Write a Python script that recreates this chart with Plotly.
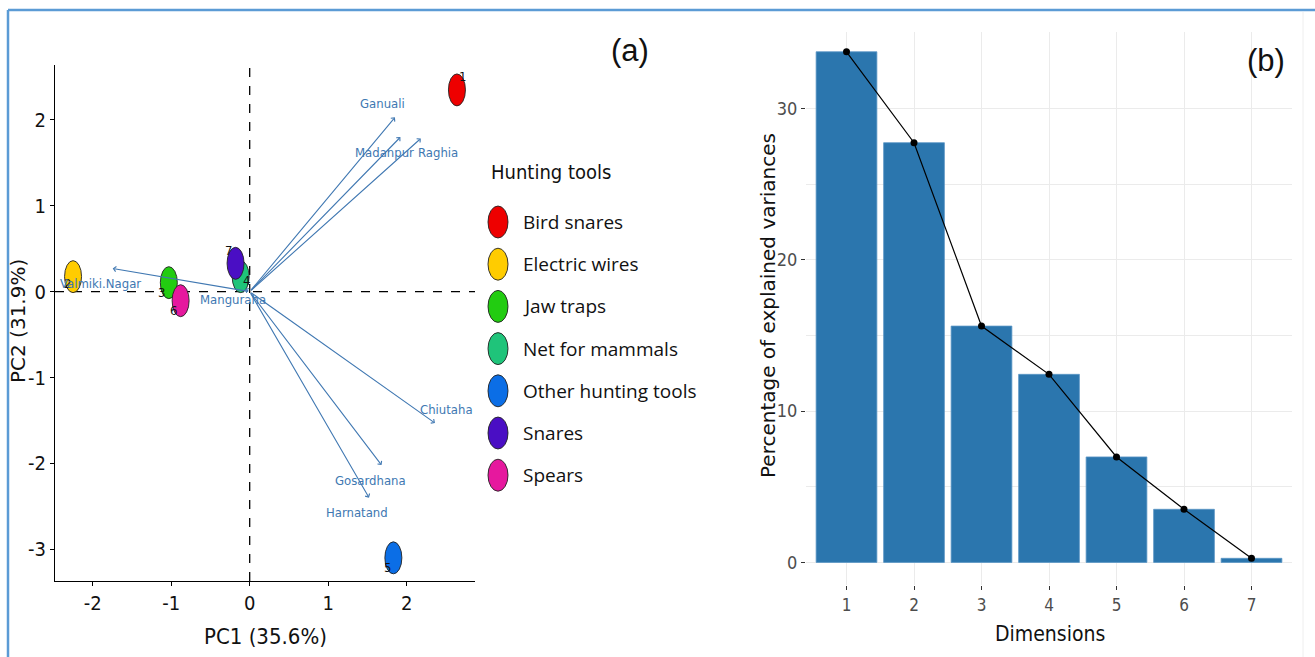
import plotly.graph_objects as go

# ---------------- data ----------------
tool_ids = ["1", "2", "3", "4", "5", "6", "7"]
point_tools = ["Bird snares", "Electric wires", "Jaw traps", "Net for mammals",
               "Other hunting tools", "Spears", "Snares"]
pc1 = [2.64, -2.25, -1.03, -0.115, 1.83, -0.88, -0.18]
pc2 = [2.35, 0.175, 0.105, 0.175, -3.10, -0.105, 0.33]

legend_tools = ["Bird snares", "Electric wires", "Jaw traps", "Net for mammals",
                "Other hunting tools", "Snares", "Spears"]
legend_colors = ["#ee0000", "#ffcc00", "#22cc11", "#1fc47a", "#0b6ee6", "#4a0ec4", "#e6189e"]

sites = ["Ganuali", "Madanpur", "Raghia", "Valmiki.Nagar", "Manguraha",
         "Chiutaha", "Gosardhana", "Harnatand"]
load1 = [1.85, 1.92, 2.18, -1.745, -0.06, 2.36, 1.68, 1.52]
load2 = [2.03, 1.80, 1.785, 0.27, 0.03, -1.53, -2.02, -2.40]

pc1_ticks = [-2, -1, 0, 1, 2]
pc1_ticktext = ["-2", "-1", "0", "1", "2"]
pc2_ticks = [-3, -2, -1, 0, 1, 2]
pc2_ticktext = ["-3", "-2", "-1", "0", "1", "2"]

dims = [1, 2, 3, 4, 5, 6, 7]
explained = [33.75, 27.74, 15.62, 12.43, 6.97, 3.51, 0.27]

# ---------------- style / layout constants ----------------
W, H = 1315, 657
NARROW = "DejaVu Sans Condensed, Liberation Sans Narrow, Arial Narrow, Liberation Sans, sans-serif"
ARROW_C = "#4078b2"
color_of = dict(zip(legend_tools, legend_colors))


def px_x(p):
    return p / W


def px_y(p):
    return 1 - p / H


# label pixel offsets (dx right, dy up) for point ids and site labels
id_offsets = [(6, 13), (-6, -7), (-7, -10), (6, -4), (-6, -10), (-7, -10), (-7, 13)]
site_offsets = [(-12, 14), (-16, -15), (17, -14), (-12, -15), (-12, -10),
                (12, 14), (-11, -15), (-12, -15)]

fig = go.Figure()

# ---------------- right panel: scree plot ----------------
fig.add_trace(go.Bar(
    x=dims, y=explained, width=0.9, xaxis="x2", yaxis="y2",
    marker=dict(color="#2b76ae", line=dict(color="#5b95c5", width=0.8)),
    showlegend=False, hoverinfo="x+y"))
fig.add_trace(go.Scatter(
    x=dims, y=explained, xaxis="x2", yaxis="y2", mode="lines+markers",
    line=dict(color="black", width=1.2), marker=dict(color="black", size=7),
    showlegend=False))

# invisible trace to anchor left axes
fig.add_trace(go.Scatter(x=pc1, y=pc2, mode="markers", xaxis="x", yaxis="y",
                         marker=dict(size=1, opacity=0), showlegend=False,
                         hoverinfo="skip"))

shapes = []
annotations = []


def note(x, y, text, size, family=NARROW, color="#111", xanchor="center",
         yanchor="middle", angle=0, xref="paper", yref="paper", dx=0, dy=0):
    annotations.append(dict(x=x, y=y, xref=xref, yref=yref, text=text, showarrow=False,
                            xanchor=xanchor, yanchor=yanchor, textangle=angle,
                            xshift=dx, yshift=dy,
                            font=dict(family=family, size=size, color=color)))


# dashed reference lines
shapes.append(dict(type="line", xref="x", yref="paper", x0=0, x1=0,
                   y0=px_y(581), y1=px_y(65),
                   line=dict(color="black", width=1.3, dash="dash"), layer="below"))
shapes.append(dict(type="line", xref="paper", yref="y", x0=px_x(55), x1=px_x(475),
                   y0=0, y1=0,
                   line=dict(color="black", width=1.3, dash="dash"), layer="below"))

# individuals as ellipses
for xv, yv, t in zip(pc1, pc2, point_tools):
    shapes.append(dict(type="circle", xref="x", yref="y",
                       xsizemode="pixel", ysizemode="pixel",
                       xanchor=xv, yanchor=yv, x0=-8.5, x1=8.5, y0=-16, y1=16,
                       fillcolor=color_of[t], line=dict(color="#222", width=0.9),
                       layer="above"))

# id labels
for xv, yv, t, (dx, dy) in zip(pc1, pc2, tool_ids, id_offsets):
    note(xv, yv, t, 13, xref="x", yref="y", dx=dx, dy=dy)

# variable arrows
for xv, yv in zip(load1, load2):
    annotations.append(dict(x=xv, y=yv, ax=0, ay=0, xref="x", yref="y",
                            axref="x", ayref="y", text="", showarrow=True,
                            arrowhead=4, arrowsize=0.9, arrowwidth=1.1,
                            arrowcolor=ARROW_C))
for xv, yv, s, (dx, dy) in zip(load1, load2, sites, site_offsets):
    note(xv, yv, s, 13, color=ARROW_C, xref="x", yref="y", dx=dx, dy=dy)

# custom legend
note(px_x(489), px_y(172), "Hunting tools", 20, xanchor="left")
for i, (name, c) in enumerate(zip(legend_tools, legend_colors)):
    yc = 222 + i * 42.2
    shapes.append(dict(type="circle", xref="paper", yref="paper",
                       xsizemode="pixel", ysizemode="pixel",
                       xanchor=px_x(498), yanchor=px_y(yc),
                       x0=-10, x1=10, y0=-16, y1=16,
                       fillcolor=c, line=dict(color="#222", width=0.9)))
    note(px_x(521), px_y(yc), name, 19, family="Open Sans, sans-serif", xanchor="left")

# axis titles and panel tags
note(px_x(265), px_y(636), "PC1 (35.6%)", 22)
note(px_x(18), px_y(321), "PC2 (31.9%)", 20, family="DejaVu Sans, sans-serif", angle=-90)
note(px_x(630), px_y(50), "(a)", 31, family="Liberation Sans, Arial, sans-serif")
note(px_x(1266), px_y(60), "(b)", 31, family="Liberation Sans, Arial, sans-serif")
note(px_x(1050), px_y(634), "Dimensions", 21)
note(px_x(768), px_y(306), "Percentage of explained variances", 20,
     family="DejaVu Sans, sans-serif", angle=-90)

# blue frame
shapes.append(dict(type="line", xref="paper", yref="paper", x0=px_x(8), x1=1.0,
                   y0=px_y(10), y1=px_y(10), line=dict(color="#5b9bd5", width=2.5)))
shapes.append(dict(type="line", xref="paper", yref="paper", x0=px_x(8), x1=px_x(8),
                   y0=0, y1=px_y(10), line=dict(color="#5b9bd5", width=2.5)))
shapes.append(dict(type="line", xref="paper", yref="paper", x0=px_x(1303), x1=px_x(1303),
                   y0=0, y1=px_y(12), line=dict(color="#eeeeee", width=1)))

fig.update_layout(
    width=W, height=H, margin=dict(l=0, r=0, t=0, b=0),
    paper_bgcolor="white", plot_bgcolor="white", showlegend=False,
    xaxis=dict(domain=[px_x(55), px_x(475)], range=[-2.48, 2.87],
               tickmode="array", tickvals=pc1_ticks, ticktext=pc1_ticktext,
               ticks="outside", ticklen=4,
               tickcolor="black", showline=True, linecolor="black", linewidth=1.1,
               showgrid=False, zeroline=False,
               tickfont=dict(family=NARROW, size=20, color="#111"), anchor="y"),
    yaxis=dict(domain=[px_y(581), px_y(65)], range=[-3.37, 2.64],
               tickmode="array", tickvals=pc2_ticks, ticktext=pc2_ticktext,
               ticks="outside", ticklen=4,
               tickcolor="black", showline=True, linecolor="black", linewidth=1.1,
               showgrid=False, zeroline=False,
               tickfont=dict(family=NARROW, size=20, color="#111"), anchor="x"),
    xaxis2=dict(domain=[px_x(806), px_x(1292)], range=[0.4, 7.6],
                tickvals=dims, ticks="outside", ticklen=4, tickcolor="#333",
                showline=False, showgrid=True, gridcolor="#ebebeb", gridwidth=1.2,
                zeroline=False, anchor="y2",
                tickfont=dict(family=NARROW, size=17, color="#4d4d4d")),
    yaxis2=dict(domain=[px_y(585.1), px_y(32.1)], range=[-1.5, 35.05],
                tickvals=[0, 10, 20, 30], ticks="outside", ticklen=4, tickcolor="#333",
                showline=False, showgrid=True, gridcolor="#ebebeb", gridwidth=1.2,
                zeroline=False, anchor="x2",
                minor=dict(tickmode="array", tickvals=[5, 15, 25, 35], showgrid=True,
                           gridcolor="#ebebeb", gridwidth=1.2, ticks=""),
                tickfont=dict(family=NARROW, size=18, color="#4d4d4d")),
    shapes=shapes, annotations=annotations,
)

fig.write_html("out.html")
